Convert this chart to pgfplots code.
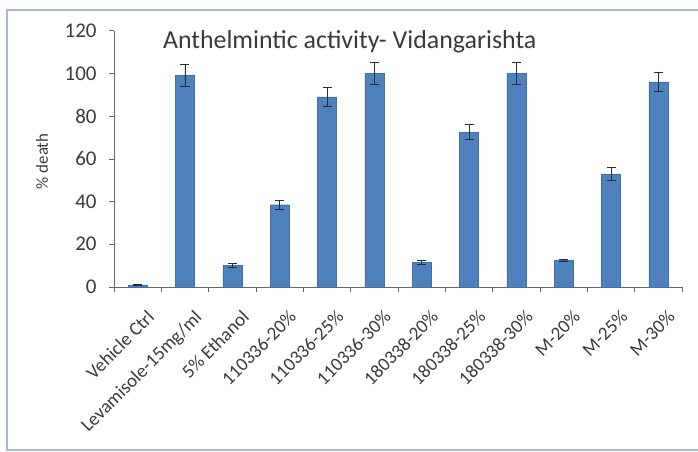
\documentclass[border=0pt]{standalone}
\usepackage{pgfplots}
\pgfplotsset{compat=1.18}
\usepackage{fontspec}
\setmainfont{Carlito}
\definecolor{barblue}{HTML}{4F81BD}
\definecolor{framecol}{HTML}{A9B8C8}
\definecolor{txt}{HTML}{3A3A3A}
\definecolor{errc}{HTML}{1F2D45}
\begin{document}
\begin{tikzpicture}
\useasboundingbox (-114bp,-165bp) rectangle (584bp,287bp);
\draw[framecol, line width=1.2bp] (-107bp,-163bp) rectangle (590bp,277bp);
\begin{axis}[
  at={(0,0)}, anchor=south west,
  scale only axis,
  width=568bp, height=256.4bp,
  xmin=-0.5, xmax=11.5,
  ymin=0, ymax=120,
  ytick={0,20,...,120},
  xtick={0,...,11},
  xticklabels={Vehicle Ctrl,Levamisole-15mg/ml,5\% Ethanol,110336-20\%,110336-25\%,110336-30\%,180338-20\%,180338-25\%,180338-30\%,M-20\%,M-25\%,M-30\%},
  major x tick style={draw=none},
  minor xtick={-0.5,0.5,...,11.5},
  minor tick length=5bp,
  major tick length=5bp,
  tick align=outside,
  axis lines*=left,
  axis line style={draw=gray!80!black, line width=0.6bp},
  tick style={draw=gray!80!black, line width=0.6bp},
  x tick label style={rotate=45, anchor=north east, font=\fontsize{19}{20}\selectfont, text=txt, inner sep=1bp, yshift=-17bp, xshift=-5bp},
  y tick label style={font=\fontsize{21}{22}\selectfont, text=txt, xshift=-9bp},
  /pgf/number format/assume math mode=true,
  ylabel={\% death},
  ylabel style={at={(-72bp,0.49)}, rotate=0, anchor=center, font=\fontsize{17}{18}\selectfont, text=txt},
  ybar, bar width=19bp,
  clip=false,
]
\addplot[fill=barblue, draw=barblue!85!black, line width=0.3bp,
  error bars/.cd, y dir=both, y explicit,
  error bar style={errc, line width=0.9bp},
  error mark options={rotate=90, mark size=4.5bp, errc, line width=0.9bp}]
  coordinates {
  (0,1) +- (0,0.2)
  (1,99) +- (0,5)
  (2,10) +- (0,1)
  (3,38.5) +- (0,2)
  (4,89) +- (0,4.5)
  (5,100) +- (0,5)
  (6,11.5) +- (0,1)
  (7,72.5) +- (0,3.5)
  (8,100) +- (0,5)
  (9,12.5) +- (0,0.5)
  (10,53) +- (0,3)
  (11,96) +- (0,4.5)
  };
\node[font=\fontsize{26}{28}\selectfont, text=txt] at (rel axis cs:0.415,0.955) {Anthelmintic activity- Vidangarishta};
\end{axis}
\end{tikzpicture}
\end{document}
